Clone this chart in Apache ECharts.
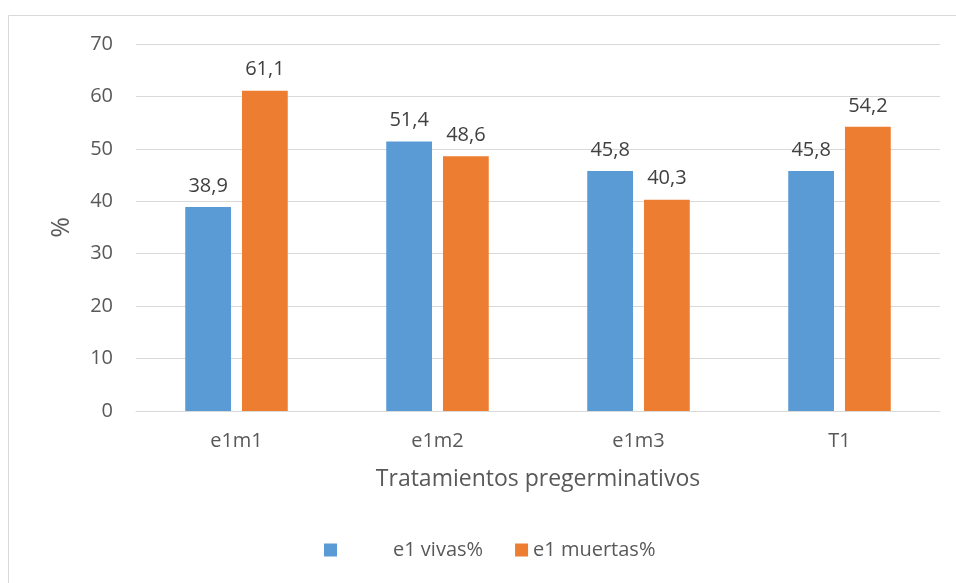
<!DOCTYPE html>
<html>
<head>
<meta charset="utf-8">
<script src="https://cdn.jsdelivr.net/npm/echarts@6/dist/echarts.min.js"></script>
<style>
  html, body { margin: 0; padding: 0; background: #fff; }
  #chart { width: 956px; height: 583px; }
</style>
</head>
<body>
<div id="chart"></div>
<script>
// Germination treatments and percentages of live / dead seeds
const categories = ['e1m1', 'e1m2', 'e1m3', 'T1'];
const vivas = [38.9, 51.4, 45.8, 45.8];
const muertas = [61.1, 48.6, 40.3, 54.2];
const seriesNames = ['e1 vivas%', 'e1 muertas%'];

const FONT = '"Open Sans", "Noto Sans", sans-serif';
const fmtComma = p => String(p.value).replace('.', ',');

const chart = echarts.init(document.getElementById('chart'));
chart.setOption({
  animation: false,
  textStyle: { fontFamily: FONT },
  graphic: [{
    type: 'rect',
    shape: { x: 8.5, y: 15.5, width: 1000, height: 700 },
    style: { fill: 'none', stroke: '#d9d9d9', lineWidth: 1 },
    silent: true
  }],
  grid: { left: 136, right: 16, top: 44, bottom: 172 },
  legend: {
    left: 324,
    top: 540,
    padding: 0,
    itemWidth: 13,
    itemHeight: 13,
    itemGap: 32,
    icon: 'rect',
    textStyle: { fontSize: 20, color: '#595959', fontFamily: FONT },
    data: [
      { name: seriesNames[0], textStyle: { padding: [0, 0, 0, 51] } },
      { name: seriesNames[1] }
    ]
  },
  xAxis: {
    type: 'category',
    data: categories,
    name: 'Tratamientos pregerminativos',
    nameLocation: 'middle',
    nameGap: 57,
    nameTextStyle: { fontSize: 23, color: '#595959', fontFamily: FONT },
    axisLine: { lineStyle: { color: '#d9d9d9', width: 1 } },
    axisTick: { show: false },
    axisLabel: { fontSize: 20, color: '#595959', margin: 20, fontFamily: FONT }
  },
  yAxis: {
    type: 'value',
    min: 0,
    max: 70,
    interval: 10,
    name: '%',
    nameLocation: 'middle',
    nameGap: 62,
    nameRotate: 90,
    nameTextStyle: { fontSize: 25, color: '#595959', fontFamily: FONT },
    axisLine: { show: false },
    axisTick: { show: false },
    axisLabel: { fontSize: 20, color: '#595959', margin: 23, fontFamily: FONT },
    splitLine: { lineStyle: { color: '#d9d9d9', width: 1 } }
  },
  series: [
    {
      name: seriesNames[0],
      type: 'bar',
      data: vivas,
      barGap: '24%',
      barCategoryGap: '49%',
      itemStyle: { color: '#5b9bd5' },
      label: { show: true, position: 'top', distance: 11, fontSize: 20, color: '#404040', formatter: fmtComma, fontFamily: FONT }
    },
    {
      name: seriesNames[1],
      type: 'bar',
      data: muertas,
      itemStyle: { color: '#ed7d31' },
      label: { show: true, position: 'top', distance: 11, fontSize: 20, color: '#404040', formatter: fmtComma, fontFamily: FONT }
    }
  ]
});
</script>
</body>
</html>
